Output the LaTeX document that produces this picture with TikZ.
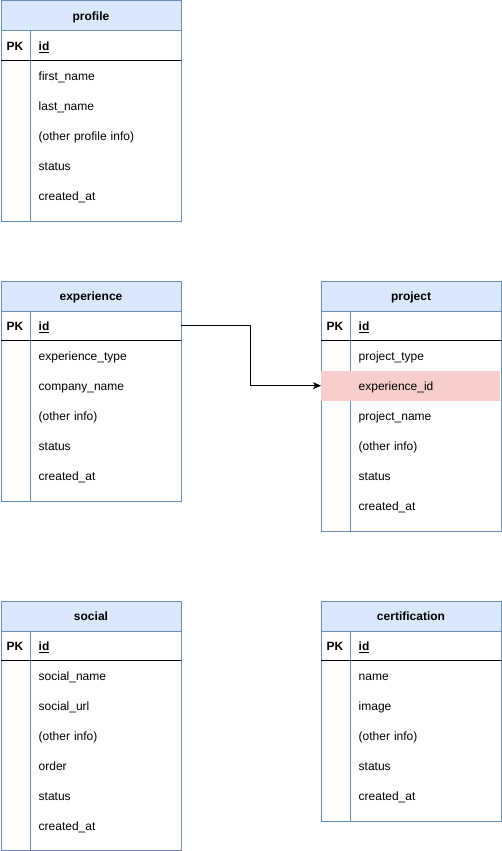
\documentclass[tikz,border=0pt]{standalone}
\usepackage{fontspec}
\setmainfont{Liberation Sans}
\usetikzlibrary{arrows.meta}
\definecolor{hdrfill}{HTML}{DAE8FC}
\definecolor{hdrline}{HTML}{6C8EBF}
\definecolor{fkfill}{HTML}{F8CECC}
\tikzset{
  x=1pt, y=-1pt,
  basefont/.style={font=\fontsize{12}{14}\selectfont},
  boldfont/.style={font=\fontsize{12}{14}\selectfont\bfseries},
  tbl/.style={draw=hdrline, line width=1pt, inner sep=0pt, anchor=north west, minimum width=180pt},
  hdr/.style={draw=hdrline, fill=hdrfill, line width=1pt, anchor=north west, minimum width=180pt,
    minimum height=30pt, inner sep=0pt, text height=10pt, text depth=1pt, boldfont},
  divline/.style={draw=hdrline, line width=1pt},
  pkline/.style={draw=black, line width=1pt},
  fkrow/.style={fill=fkfill, inner sep=0pt, anchor=north west, minimum width=179pt, minimum height=30pt},
  rowcell/.style={anchor=north west, inner xsep=8pt, inner ysep=0pt, text width=134pt, align=left,
    minimum height=30pt, text height=10pt, text depth=1pt, basefont},
  idcell/.style={rowcell, boldfont},
  pkcell/.style={anchor=north west, inner xsep=6pt, inner ysep=0pt, text width=18pt, align=left,
    minimum height=30pt, text height=10pt, text depth=1pt, boldfont},
  rel/.style={draw=black, line width=1pt, -{Stealth[length=8pt,width=7pt,inset=2pt]}},
}
% #1 name, #2 x, #3 y, #4 height, #5 title, #6 fields, #7 foreign-key row (0 = none)
\newcommand\ertbl[7]{%
  \node[tbl, minimum height=#4pt] (#1) at (#2+0.5,#3+0.5) {};
  \node[hdr] (#1-h) at (#2+0.5,#3+0.5) {#5};
  \draw[divline] (#2+30.5,#3+30.5) -- (#2+30.5,#3+#4+0.5);
  \ifnum#7>0 \node[fkrow] (#1-fk) at (#2+1,#3+30.5+30*#7) {};\fi
  \draw[pkline] (#2+0.5,#3+60.5) -- (#2+180.5,#3+60.5);
  \node[pkcell] (#1-pk) at (#2+0.5,#3+30.5) {PK};
  \node[idcell] (#1-r0) at (#2+30.5,#3+30.5) {\underline{id}};
  \foreach \f [count=\i] in {#6} {
    \node[rowcell] (#1-r\i) at (#2+30.5,#3+30.5+30*\i) {\f};
  }%
}
\begin{document}
\begin{tikzpicture}
\useasboundingbox (0,0) rectangle (501,851);
\ertbl{profile}{0}{0}{220}{profile}{first\_name,last\_name,(other profile info),status,created\_at}{0}
\ertbl{exp}{0}{280}{220}{experience}{experience\_type,company\_name,(other info),status,created\_at}{0}
\ertbl{proj}{320}{280}{250}{project}{project\_type,experience\_id,project\_name,(other info),status,created\_at}{2}
\ertbl{social}{0}{600}{249.5}{social}{social\_name,social\_url,(other info),order,status,created\_at}{0}
\ertbl{cert}{320}{600}{220}{certification}{name,image,(other info),status,created\_at}{0}
\draw[rel] (exp-r0.east) -- ++(70,0) |- (proj-fk.west);
\end{tikzpicture}
\end{document}
